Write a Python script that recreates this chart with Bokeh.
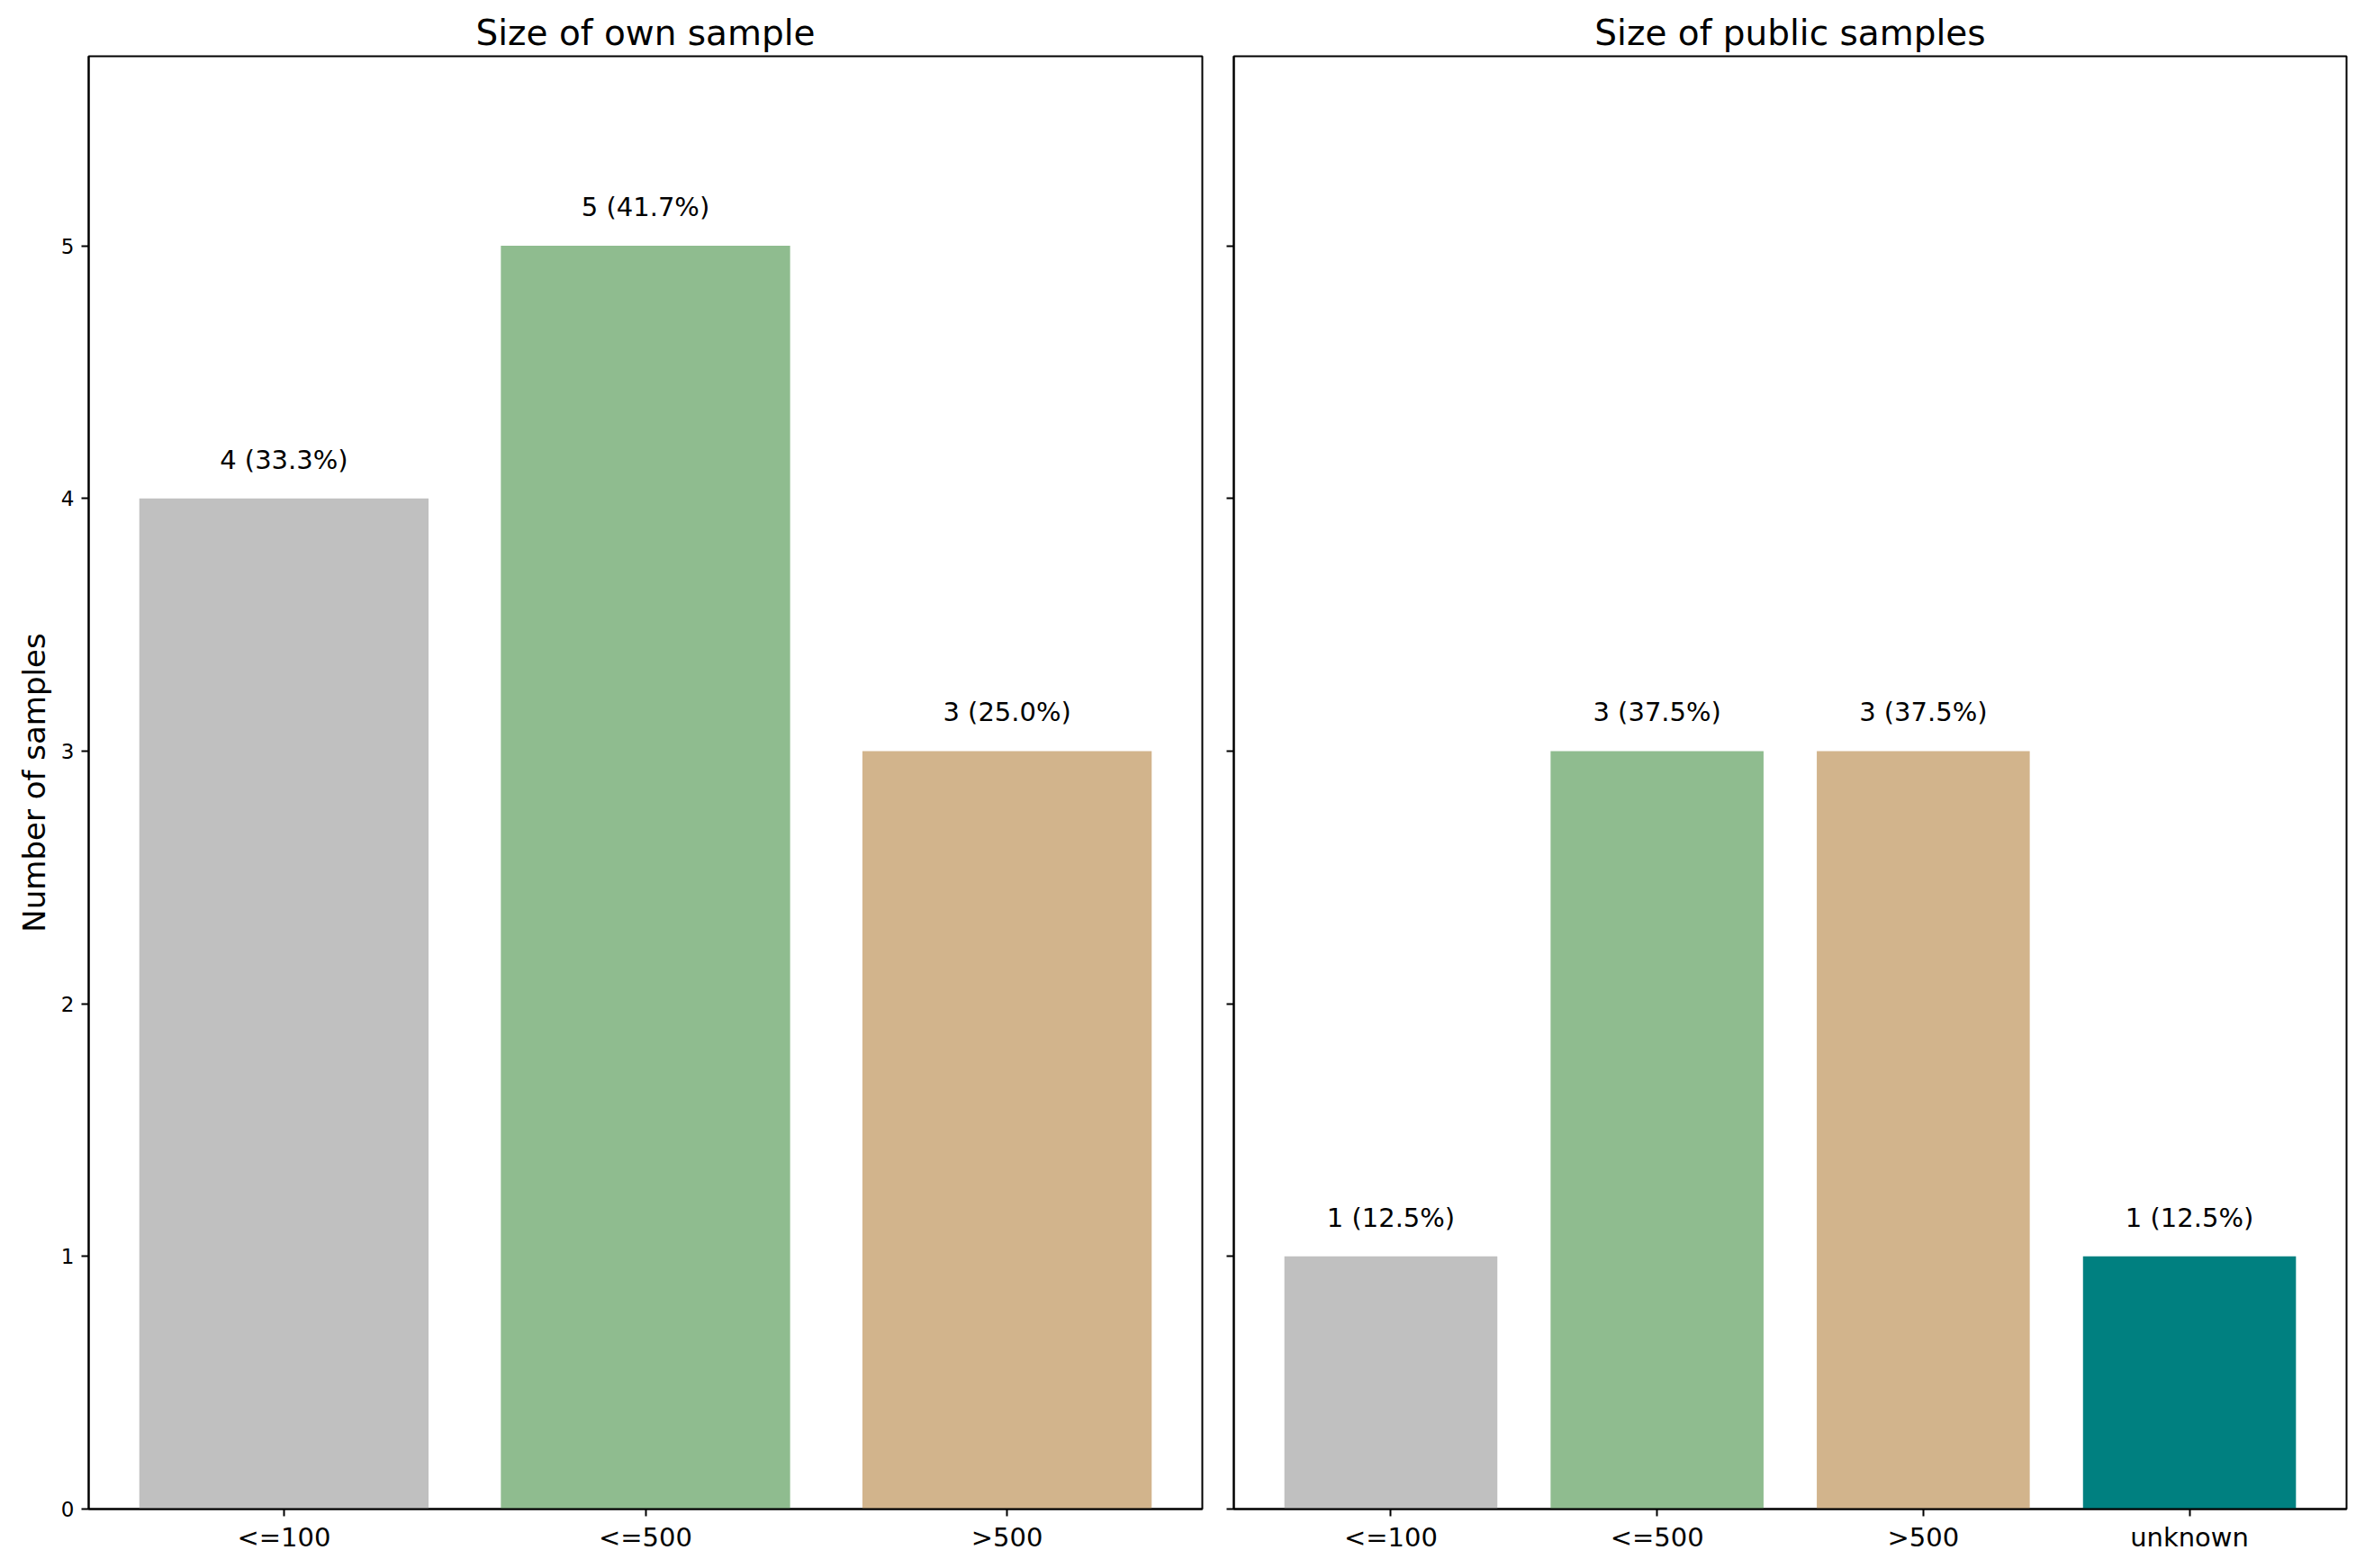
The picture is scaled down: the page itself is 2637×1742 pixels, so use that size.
from bokeh.plotting import figure
from bokeh.layouts import row
from bokeh.models import Range1d, ColumnDataSource, FixedTicker
from bokeh.core.properties import value
from bokeh.embed import file_html
from bokeh.resources import INLINE

# ---- data ----
own_categories = ["<=100", "<=500", ">500"]
own_counts = [4, 5, 3]
own_colors = ["#c0c0c0", "#8fbc8f", "#d2b48c"]

public_categories = ["<=100", "<=500", ">500", "unknown"]
public_counts = [1, 3, 3, 1]
public_colors = ["#c0c0c0", "#8fbc8f", "#d2b48c", "#008080"]

y_ticks = [0, 1, 2, 3, 4, 5]
titles = ["Size of own sample", "Size of public samples"]
y_label = "Number of samples"

FONT = "DejaVu Sans"
Y_MAX = 5.75


def make_panel(cats, counts, colors, title, y_range, width, border_left, border_right, show_ylabels):
    n = len(cats)
    xs = list(range(n))
    total = sum(counts)
    labels = [f"{c} ({c / total * 100:.1f}%)" for c in counts]
    src = ColumnDataSource(dict(x=xs, top=counts, color=colors, label=labels))

    p = figure(width=width, height=1730, output_backend="svg", toolbar_location=None,
               x_range=Range1d(-0.4 - 0.05 * (n - 0.2), n - 0.6 + 0.05 * (n - 0.2)),
               y_range=y_range, title=title,
               min_border_left=border_left, min_border_right=border_right,
               min_border_top=62, min_border_bottom=54)
    p.vbar(x="x", top="top", bottom=0, width=0.8, color="color", source=src, line_color=None)
    p.text(x="x", y="top", text="label", source=src, text_align="center", text_baseline="bottom",
           y_offset=-26, text_font=value(FONT), text_font_size="29px", text_color="black")

    p.title.text_font = FONT
    p.title.text_font_size = "39px"
    p.title.text_font_style = "normal"
    p.title.text_color = "black"
    p.title.align = "center"
    p.title.standoff = 8

    p.xgrid.visible = False
    p.ygrid.visible = False
    p.outline_line_color = "black"
    p.outline_line_width = 2
    p.background_fill_color = "white"
    p.border_fill_color = "white"

    xa = p.xaxis[0]
    xa.ticker = FixedTicker(ticks=xs)
    xa.major_label_overrides = {i: c for i, c in enumerate(cats)}
    xa.major_label_text_font = FONT
    xa.major_label_text_font_size = "29px"
    xa.major_label_text_color = "black"
    xa.minor_tick_line_color = None
    xa.major_tick_out = 8
    xa.major_tick_in = 0
    xa.major_tick_line_width = 2
    xa.axis_line_width = 2
    xa.major_label_standoff = 6

    ya = p.yaxis[0]
    ya.ticker = FixedTicker(ticks=y_ticks)
    ya.minor_tick_line_color = None
    ya.major_tick_out = 8
    ya.major_tick_in = 0
    ya.major_tick_line_width = 2
    ya.axis_line_width = 2
    ya.major_label_standoff = 8
    ya.major_label_text_font = FONT
    ya.major_label_text_font_size = "23px"
    ya.major_label_text_color = "black"
    if show_ylabels:
        ya.axis_label = y_label
        ya.axis_label_text_font = FONT
        ya.axis_label_text_font_size = "34px"
        ya.axis_label_text_font_style = "normal"
        ya.axis_label_text_color = "black"
        ya.axis_label_standoff = 7
    else:
        ya.major_label_overrides = {t: "" for t in y_ticks}
    return p


yr = Range1d(0, Y_MAX)
p1 = make_panel(own_categories, own_counts, own_colors, titles[0], yr,
                width=98 + 1237 + 10, border_left=98, border_right=10, show_ylabels=True)
p2 = make_panel(public_categories, public_counts, public_colors, titles[1], yr,
                width=25 + 1236 + 15, border_left=25, border_right=15, show_ylabels=False)

layout = row(p1, p2, spacing=0)
open("out.html", "w").write(file_html(layout, INLINE))
